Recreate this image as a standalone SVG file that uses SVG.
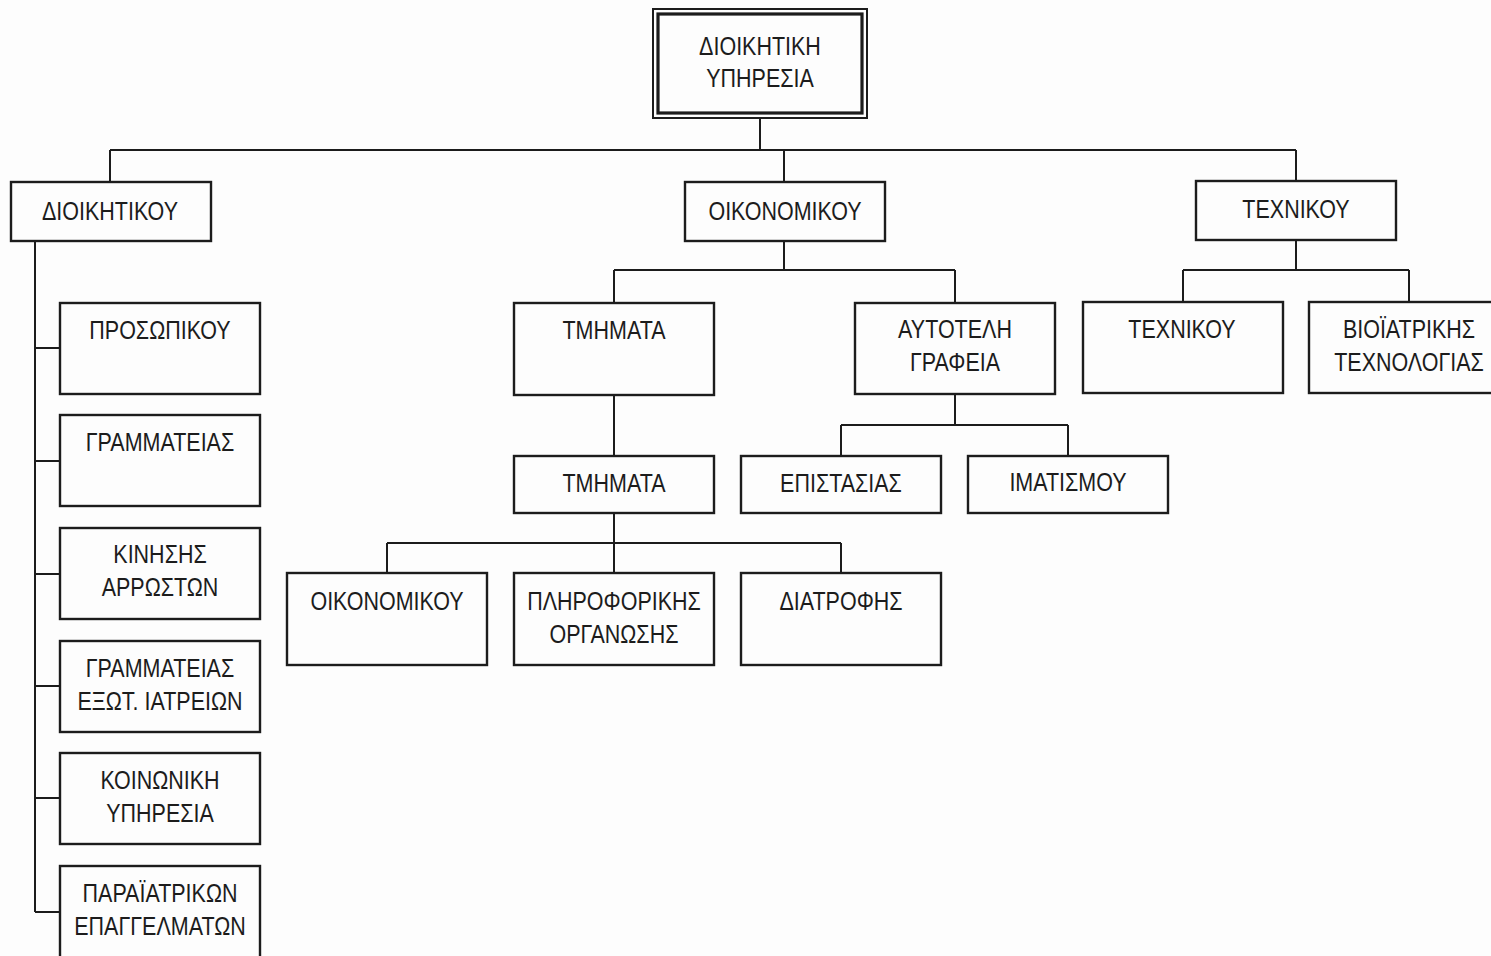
<svg xmlns="http://www.w3.org/2000/svg" width="1491" height="956" viewBox="0 0 1491 956">
<style>
.bg{fill:#fdfdfd}
.box{fill:none;stroke:#1c1c1c;stroke-width:2.4}
.outer{fill:none;stroke:#1c1c1c;stroke-width:2}
.inner{fill:none;stroke:#1c1c1c;stroke-width:3.2}
.ln{fill:none;stroke:#1c1c1c;stroke-width:2}
text{font-family:"Liberation Sans",Arial,sans-serif;font-size:25px;fill:#1c1c1c;text-anchor:middle}
</style>
<rect class="bg" x="0" y="0" width="1491" height="956"/>
<g id="connectors">
<path class="ln" d="M760 118V150M110 150H1296M110 150V182M784 150V182M1296 150V182"/>
<path class="ln" d="M35 241V912M35 348H60M35 461H60M35 574H60M35 686H60M35 798H60M35 912H60"/>
<path class="ln" d="M784 241V270M614 270H955M614 270V303M955 270V303"/>
<path class="ln" d="M614 395V456M614 513V573M387 543H841M387 543V573M841 543V573"/>
<path class="ln" d="M955 394V425M841 425H1068M841 425V456M1068 425V456"/>
<path class="ln" d="M1296 240V270M1183 270H1409M1183 270V302M1409 270V302"/>
</g>
<g id="n-root">
<rect class="outer" x="653" y="9" width="214" height="109"/>
<rect class="inner" x="658" y="14" width="204" height="99"/>
<text transform="translate(760,55) scale(0.86,1)">ΔΙΟΙΚΗΤΙΚΗ</text>
<text transform="translate(760,87) scale(0.86,1)">ΥΠΗΡΕΣΙΑ</text>
</g>
<g id="n-dioikitikou">
<rect class="box" x="11" y="182" width="200" height="59"/>
<text transform="translate(110,220) scale(0.86,1)">ΔΙΟΙΚΗΤΙΚΟΥ</text>
</g>
<g id="n-oikonomikou">
<rect class="box" x="685" y="182" width="200" height="59"/>
<text transform="translate(785,220) scale(0.86,1)">ΟΙΚΟΝΟΜΙΚΟΥ</text>
</g>
<g id="n-texnikou">
<rect class="box" x="1196" y="181" width="200" height="59"/>
<text transform="translate(1296,218) scale(0.86,1)">ΤΕΧΝΙΚΟΥ</text>
</g>
<g id="n-prosopikou">
<rect class="box" x="60" y="303" width="200" height="91"/>
<text transform="translate(160,339) scale(0.86,1)">ΠΡΟΣΩΠΙΚΟΥ</text>
</g>
<g id="n-grammateias">
<rect class="box" x="60" y="415" width="200" height="91"/>
<text transform="translate(160,451) scale(0.86,1)">ΓΡΑΜΜΑΤΕΙΑΣ</text>
</g>
<g id="n-kinisis">
<rect class="box" x="60" y="528" width="200" height="91"/>
<text transform="translate(160,563) scale(0.86,1)">ΚΙΝΗΣΗΣ</text>
<text transform="translate(160,596) scale(0.86,1)">ΑΡΡΩΣΤΩΝ</text>
</g>
<g id="n-grammateias-exot">
<rect class="box" x="60" y="641" width="200" height="91"/>
<text transform="translate(160,677) scale(0.86,1)">ΓΡΑΜΜΑΤΕΙΑΣ</text>
<text transform="translate(160,710) scale(0.86,1)">ΕΞΩΤ. ΙΑΤΡΕΙΩΝ</text>
</g>
<g id="n-koinoniki">
<rect class="box" x="60" y="753" width="200" height="91"/>
<text transform="translate(160,789) scale(0.86,1)">ΚΟΙΝΩΝΙΚΗ</text>
<text transform="translate(160,822) scale(0.86,1)">ΥΠΗΡΕΣΙΑ</text>
</g>
<g id="n-paraiatrikon">
<rect class="box" x="60" y="866" width="200" height="100"/>
<text transform="translate(160,902) scale(0.86,1)">ΠΑΡΑΪΑΤΡΙΚΩΝ</text>
<text transform="translate(160,935) scale(0.86,1)">ΕΠΑΓΓΕΛΜΑΤΩΝ</text>
</g>
<g id="n-tmimata1">
<rect class="box" x="514" y="303" width="200" height="92"/>
<text transform="translate(614,339) scale(0.86,1)">ΤΜΗΜΑΤΑ</text>
</g>
<g id="n-autoteli">
<rect class="box" x="855" y="303" width="200" height="91"/>
<text transform="translate(955,338) scale(0.86,1)">ΑΥΤΟΤΕΛΗ</text>
<text transform="translate(955,371) scale(0.86,1)">ΓΡΑΦΕΙΑ</text>
</g>
<g id="n-tmimata2">
<rect class="box" x="514" y="456" width="200" height="57"/>
<text transform="translate(614,492) scale(0.86,1)">ΤΜΗΜΑΤΑ</text>
</g>
<g id="n-epistasias">
<rect class="box" x="741" y="456" width="200" height="57"/>
<text transform="translate(841,492) scale(0.86,1)">ΕΠΙΣΤΑΣΙΑΣ</text>
</g>
<g id="n-imatismou">
<rect class="box" x="968" y="456" width="200" height="57"/>
<text transform="translate(1068,491) scale(0.86,1)">ΙΜΑΤΙΣΜΟΥ</text>
</g>
<g id="n-oikonomikou2">
<rect class="box" x="287" y="573" width="200" height="92"/>
<text transform="translate(387,610) scale(0.86,1)">ΟΙΚΟΝΟΜΙΚΟΥ</text>
</g>
<g id="n-pliroforikis">
<rect class="box" x="514" y="573" width="200" height="92"/>
<text transform="translate(614,610) scale(0.86,1)">ΠΛΗΡΟΦΟΡΙΚΗΣ</text>
<text transform="translate(614,643) scale(0.86,1)">ΟΡΓΑΝΩΣΗΣ</text>
</g>
<g id="n-diatrofis">
<rect class="box" x="741" y="573" width="200" height="92"/>
<text transform="translate(841,610) scale(0.86,1)">ΔΙΑΤΡΟΦΗΣ</text>
</g>
<g id="n-texnikou2">
<rect class="box" x="1083" y="302" width="200" height="91"/>
<text transform="translate(1182,338) scale(0.86,1)">ΤΕΧΝΙΚΟΥ</text>
</g>
<g id="n-bioiatrikis">
<rect class="box" x="1309" y="302" width="200" height="91"/>
<text transform="translate(1409,338) scale(0.86,1)">ΒΙΟΪΑΤΡΙΚΗΣ</text>
<text transform="translate(1409,371) scale(0.86,1)">ΤΕΧΝΟΛΟΓΙΑΣ</text>
</g>
</svg>
